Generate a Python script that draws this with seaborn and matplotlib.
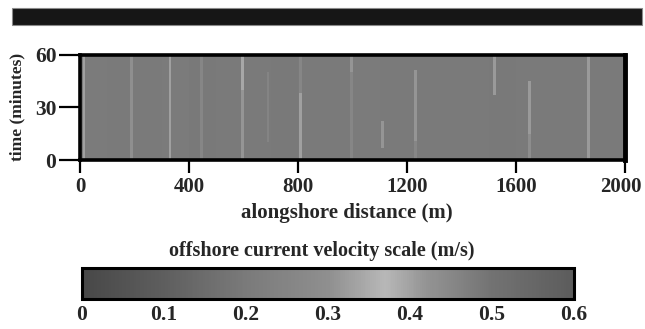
import numpy as np
import pandas as pd
import matplotlib
matplotlib.use("Agg")
import matplotlib.pyplot as plt
from matplotlib.colors import LinearSegmentedColormap
from matplotlib.patches import Rectangle
from matplotlib.transforms import ScaledTranslation
import seaborn as sns

# ---------------- data ----------------
# background offshore velocity per 100 m alongshore segment (m/s)
bg_segment_start = [0, 100, 200, 300, 400, 500, 600, 700, 800, 900,
                    1000, 1100, 1200, 1300, 1400, 1500, 1600, 1700, 1800, 1900]
bg_velocity = [0.205, 0.20, 0.20, 0.205, 0.195, 0.20, 0.20, 0.195, 0.20, 0.20,
               0.205, 0.20, 0.20, 0.20, 0.20, 0.195, 0.20, 0.20, 0.20, 0.20]

# rip-current streaks: alongshore position (m), time span (min), velocity (m/s)
streak_dist = [18, 190, 330, 447, 599, 599, 694, 813, 813, 997, 997, 1112, 1233, 1233, 1523, 1651, 1651, 1868]
streak_t0 = [0, 0, 0, 0, 0, 40, 10, 0, 38, 0, 50, 7, 0, 11, 37, 0, 15, 0]
streak_t1 = [60, 60, 60, 60, 40, 60, 50, 38, 60, 50, 60, 22, 11, 51, 60, 15, 45, 60]
streak_vel = [0.33, 0.30, 0.33, 0.26, 0.31, 0.34, 0.25, 0.33, 0.26, 0.26, 0.31, 0.31, 0.26, 0.31, 0.32, 0.29, 0.32, 0.32]

x_ticks = [0, 400, 800, 1200, 1600, 2000]
y_ticks = [0, 30, 60]
cbar_ticks = [0, 0.1, 0.2, 0.3, 0.4, 0.5, 0.6]

# grey scale used in the original figure (value -> grey level)
cmap_vals = [0.0, 0.1, 0.2, 0.3, 0.37, 0.42, 0.5, 0.6]
cmap_grey = [0.28, 0.37, 0.48, 0.56, 0.72, 0.58, 0.45, 0.36]

# ---------------- grid ----------------
dx = 5
n_cols = 2000 // dx
n_rows = 60
field = np.zeros((n_rows, n_cols))
for s, v in zip(bg_segment_start, bg_velocity):
    field[:, s // dx:(s + 100) // dx] = v
for d, t0, t1, v in zip(streak_dist, streak_t0, streak_t1, streak_vel):
    c = int(d // dx)
    c0, c1 = max(c - 1, 0), min(c + 1, n_cols)
    field[t0:t1, c0:c1] = v
# rows top = 60 min
df = pd.DataFrame(field[::-1], index=np.arange(n_rows)[::-1], columns=np.arange(n_cols) * dx)

cmap = LinearSegmentedColormap.from_list(
    "greyscale", [(v / 0.6, (g, g, g)) for v, g in zip(cmap_vals, cmap_grey)])

# ---------------- figure ----------------
sns.set_theme(style="white")
plt.rcParams['font.family'] = ['Liberation Serif', 'DejaVu Serif']
plt.rcParams['font.weight'] = 'bold'

W, H = 645, 329
fig = plt.figure(figsize=(W / 100, H / 100), dpi=100)
fig.patch.set_facecolor("white")

def fbox(x0, y0, x1, y1):
    return [x0 / W, 1 - y1 / H, (x1 - x0) / W, (y1 - y0) / H]

ax = fig.add_axes(fbox(80, 54.5, 625, 160))
cax = fig.add_axes(fbox(82, 268, 574, 299))

sns.heatmap(df, ax=ax, cmap=cmap, vmin=0, vmax=0.6,
            xticklabels=False, yticklabels=False,
            cbar_ax=cax,
            cbar_kws={"orientation": "horizontal", "ticks": cbar_ticks})

# top black bar
fig.patches.append(Rectangle((12 / W, 1 - 25 / H), 630 / W, 17 / H,
                             transform=fig.transFigure, facecolor="#161616",
                             edgecolor="#8a8a8a", linewidth=0.8))

# main axes styling
ax.set_xticks([d / dx for d in x_ticks])
ax.set_xticklabels([str(d) for d in x_ticks])
ax.set_yticks([60 - t for t in y_ticks])
ax.set_yticklabels([str(t) for t in y_ticks], rotation=0)
ax.tick_params(axis="x", bottom=True, length=9, width=1.6, color="black",
               labelsize=15, pad=3)
ax.tick_params(axis="y", left=True, length=15, width=1.6, color="black",
               labelsize=15.5, pad=2)
for s in ax.spines.values():
    s.set_visible(True)
    s.set_linewidth(2.6)
    s.set_color("black")
ax.spines["right"].set_linewidth(3.5)
ax.set_xlabel("alongshore distance (m)", fontsize=15, fontweight="bold")
ax.set_ylabel("time (minutes)", fontsize=12.5, fontweight="bold")
ax.xaxis.set_label_coords(0.49, -0.41)
ax.yaxis.set_label_coords(-0.1, 0.5)
for lab in ax.get_xticklabels() + ax.get_yticklabels():
    lab.set_fontweight("bold")
# keep the last x label inside the canvas
last = ax.get_xticklabels()[-1]
last.set_transform(last.get_transform() + ScaledTranslation(-4 / 100, 0, fig.dpi_scale_trans))

# colorbar styling
cb = ax.collections[0].colorbar
cb.outline.set_visible(True)
cb.outline.set_linewidth(2.2)
cb.outline.set_edgecolor("black")
cb.set_ticklabels(["0", "0.1", "0.2", "0.3", "0.4", "0.5", "0.6"])
cax.tick_params(axis="x", direction="in", length=3, width=1, color="black",
                top=True, bottom=True, labelsize=15.5, pad=4)
for lab in cax.get_xticklabels():
    lab.set_fontweight("bold")
fig.text(322 / W, 1 - 251 / H, "offshore current velocity scale (m/s)",
         ha="center", va="center", fontsize=14.5, fontweight="bold")

fig.savefig("out.png", dpi=100)
